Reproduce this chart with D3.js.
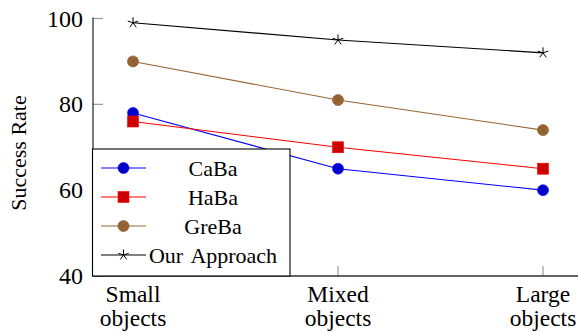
<!DOCTYPE html>
<html lang="en">
<head>
<meta charset="UTF-8">
<title>Success Rate</title>
<script src="https://cdnjs.cloudflare.com/ajax/libs/d3/7.8.5/d3.min.js"></script>
<style>
  body { margin: 0; background: #fff; }
</style>
</head>
<body>
<svg id="chart" width="581" height="333" font-family="'Liberation Serif', 'Times New Roman', Times, serif"></svg>
<script>
// data
const categories = [["Small", "objects"], ["Mixed", "objects"], ["Large", "objects"]];
const yTicks = [40, 60, 80, 100];
const caba = [78, 65, 60];
const haba = [76, 70, 65];
const greba = [90, 81, 74];
const ours = [99, 95, 92];

const series = [
  { name: "CaBa", values: caba, line: "#0000ff", fill: "#0000cc", marker: "circle" },
  { name: "HaBa", values: haba, line: "#ff0000", fill: "#cc0000", marker: "square" },
  { name: "GreBa", values: greba, line: "#996633", fill: "#996633", marker: "otimes" },
  { name: "Our Approach", values: ours, line: "#000000", fill: "#000000", marker: "star" }
];

const svg = d3.select("#chart");
const plotLeft = 93, plotRight = 578, plotTop = 18.5, plotBottom = 276;

const x = d3.scalePoint().domain(d3.range(categories.length)).range([133, 543]);
const y = d3.scaleLinear().domain([40, 100]).range([plotBottom, plotTop]);

// ticks (inside, gray)
const g = svg.append("g");
g.selectAll(".yt").data(yTicks).enter().append("line")
  .attr("x1", plotLeft).attr("x2", plotLeft + 10)
  .attr("y1", d => y(d)).attr("y2", d => y(d))
  .attr("stroke", "#999").attr("stroke-width", 1.2);
g.selectAll(".xt").data(d3.range(categories.length)).enter().append("line")
  .attr("x1", d => x(d)).attr("x2", d => x(d))
  .attr("y1", plotBottom).attr("y2", plotBottom - 10)
  .attr("stroke", "#999").attr("stroke-width", 1.2);

// axis lines
g.append("path")
  .attr("d", `M${plotLeft},${plotTop - 1}V${plotBottom}H${plotRight}`)
  .attr("fill", "none").attr("stroke", "#333").attr("stroke-width", 1.3);

// tick labels
g.selectAll(".yl").data(yTicks).enter().append("text")
  .attr("x", plotLeft - 10).attr("y", d => y(d) + 8)
  .attr("text-anchor", "end").attr("font-size", 24)
  .text(d => d);
const xl = g.selectAll(".xl").data(categories).enter().append("text")
  .attr("text-anchor", "middle").attr("font-size", 23.5)
  .attr("transform", (d, i) => `translate(${x(i)},0)`);
xl.append("tspan").attr("x", 0).attr("y", 302).text(d => d[0]);
xl.append("tspan").attr("x", 0).attr("y", 326).text(d => d[1]);

// y label
svg.append("text")
  .attr("transform", "translate(26,153) rotate(-90)")
  .attr("text-anchor", "middle").attr("font-size", 22)
  .text("Success Rate");

function drawMarker(sel, s) {
  if (s.marker === "circle") {
    sel.append("circle").attr("r", 5.5).attr("fill", s.fill).attr("stroke", s.line).attr("stroke-width", 0.6);
  } else if (s.marker === "square") {
    sel.append("rect").attr("x", -5.5).attr("y", -5.5).attr("width", 11).attr("height", 11)
      .attr("fill", s.fill).attr("stroke", s.line).attr("stroke-width", 0.6);
  } else if (s.marker === "otimes") {
    sel.append("circle").attr("r", 5.5).attr("fill", s.fill).attr("stroke", "#7a5228").attr("stroke-width", 0.6);
    const r = 5.5 * Math.SQRT1_2;
    sel.append("path").attr("d", `M${-r},${-r}L${r},${r}M${-r},${r}L${r},${-r}`)
      .attr("stroke", "#7a5228").attr("stroke-width", 0.6);
  } else {
    const r = 5.5;
    let d = "";
    for (let k = 0; k < 5; k++) {
      const a = (-90 + 72 * k) * Math.PI / 180;
      d += `M0,0L${(r * Math.cos(a)).toFixed(2)},${(r * Math.sin(a)).toFixed(2)}`;
    }
    sel.append("path").attr("d", d).attr("stroke", "#000").attr("stroke-width", 1).attr("fill", "none");
  }
}

// series
const line = d3.line().x((d, i) => x(i)).y(d => y(d));
series.forEach(s => {
  svg.append("path").datum(s.values).attr("d", line)
    .attr("fill", "none").attr("stroke", s.line).attr("stroke-width", 1.1);
  svg.selectAll(null).data(s.values).enter().append("g")
    .attr("transform", (d, i) => `translate(${x(i)},${y(d)})`)
    .each(function () { drawMarker(d3.select(this), s); });
});

// legend
const lg = svg.append("g");
lg.append("rect").attr("x", 92.5).attr("y", 149).attr("width", 197.5).attr("height", 127)
  .attr("fill", "#fff").attr("stroke", "#000").attr("stroke-width", 1.1);
const rows = lg.selectAll(".row").data(series).enter().append("g")
  .attr("transform", (d, i) => `translate(0,${168 + i * 29})`);
rows.append("line").attr("x1", 101).attr("x2", 146).attr("y1", 0).attr("y2", 0)
  .attr("stroke", d => d.line).attr("stroke-width", 1.1);
rows.append("g").attr("transform", "translate(123.5,0)")
  .each(function (d) { drawMarker(d3.select(this), d); });
rows.append("text").attr("x", 213).attr("y", 7.5).attr("text-anchor", "middle")
  .attr("font-size", 22).attr("word-spacing", 3).text(d => d.name);
</script>
</body>
</html>
